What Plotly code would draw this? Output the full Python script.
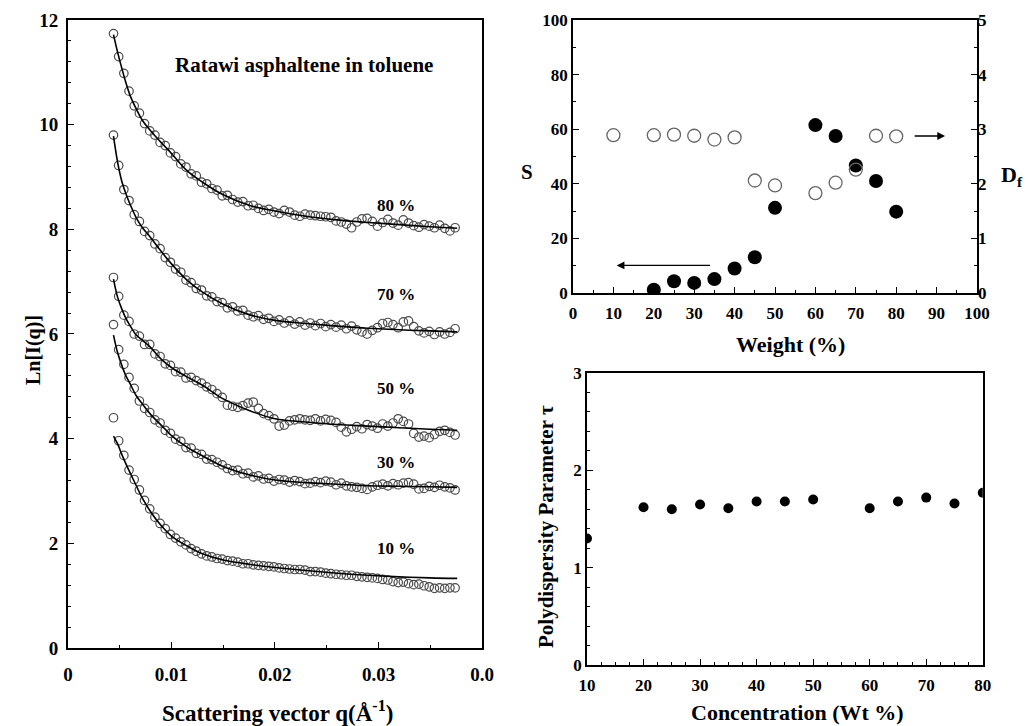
import plotly.graph_objects as go

# ---------------- Left panel data: Ln[I(q)] vs q ----------------
q = [0.0044, 0.0049, 0.0054, 0.0059, 0.0064, 0.0069, 0.0074, 0.0079, 0.0084, 0.0089,
     0.0094, 0.0099, 0.0104, 0.0109, 0.0114, 0.0119, 0.0124, 0.0129, 0.0134, 0.0139,
     0.0144, 0.0149, 0.0154, 0.0159, 0.0164, 0.0169, 0.0174, 0.0179, 0.0184, 0.0189,
     0.0194, 0.0199, 0.0204, 0.0209, 0.0214, 0.0219, 0.0224, 0.0229, 0.0234, 0.0239,
     0.0244, 0.0249, 0.0254, 0.0259, 0.0264, 0.0269, 0.0274, 0.0279, 0.0284, 0.0289,
     0.0294, 0.0299, 0.0304, 0.0309, 0.0314, 0.0319, 0.0324, 0.0329, 0.0334, 0.0339,
     0.0344, 0.0349, 0.0354, 0.0359, 0.0364, 0.0369, 0.0374]

ln_80 = [11.74, 11.30, 10.98, 10.64, 10.36, 10.22, 10.02, 9.88, 9.80, 9.66,
         9.60, 9.46, 9.39, 9.25, 9.19, 9.06, 9.02, 8.90, 8.87, 8.78,
         8.75, 8.64, 8.65, 8.57, 8.52, 8.53, 8.45, 8.46, 8.40, 8.36,
         8.38, 8.33, 8.30, 8.36, 8.33, 8.27, 8.25, 8.29, 8.27, 8.26,
         8.25, 8.24, 8.23, 8.16, 8.14, 8.10, 8.03, 8.14, 8.20, 8.21,
         8.15, 8.06, 8.13, 8.19, 8.12, 8.08, 8.18, 8.12, 8.07, 8.04,
         8.09, 8.06, 8.03, 8.08, 8.02, 7.97, 8.03]
ln_70 = [9.80, 9.22, 8.76, 8.55, 8.28, 8.15, 7.96, 7.88, 7.72, 7.63,
         7.46, 7.37, 7.24, 7.18, 7.03, 6.98, 6.87, 6.84, 6.73, 6.71,
         6.62, 6.60, 6.50, 6.52, 6.44, 6.45, 6.36, 6.33, 6.35, 6.28,
         6.30, 6.24, 6.27, 6.21, 6.25, 6.19, 6.23, 6.17, 6.21, 6.16,
         6.20, 6.14, 6.18, 6.13, 6.17, 6.10, 6.15, 6.08, 6.04, 6.00,
         6.07, 6.12, 6.20, 6.22, 6.18, 6.12, 6.23, 6.25, 6.14, 6.06,
         6.02, 6.05, 5.99, 6.04, 6.00, 6.03, 6.10]
ln_50 = [7.08, 6.72, 6.36, 6.24, 6.00, 5.96, 5.80, 5.80, 5.62, 5.57,
         5.43, 5.40, 5.28, 5.27, 5.16, 5.17, 5.11, 5.06, 4.99, 4.94,
         4.86, 4.79, 4.64, 4.62, 4.60, 4.63, 4.68, 4.70, 4.58, 4.48,
         4.44, 4.38, 4.24, 4.26, 4.34, 4.36, 4.38, 4.36, 4.35, 4.38,
         4.34, 4.37, 4.35, 4.31, 4.22, 4.13, 4.18, 4.23, 4.19, 4.27,
         4.24, 4.20, 4.28, 4.24, 4.30, 4.38, 4.33, 4.28, 4.10, 4.03,
         4.05, 4.02, 4.08, 4.14, 4.16, 4.12, 4.07]
ln_30 = [6.18, 5.70, 5.42, 5.17, 4.96, 4.72, 4.58, 4.50, 4.36, 4.30,
         4.16, 4.10, 3.99, 3.95, 3.83, 3.82, 3.72, 3.70, 3.61, 3.60,
         3.55, 3.50, 3.43, 3.39, 3.40, 3.33, 3.34, 3.27, 3.29, 3.23,
         3.24, 3.19, 3.22, 3.21, 3.17, 3.20, 3.18, 3.14, 3.15, 3.18,
         3.16, 3.19, 3.17, 3.12, 3.15, 3.10, 3.08, 3.07, 3.05, 3.03,
         3.08, 3.11, 3.13, 3.10, 3.14, 3.12, 3.15, 3.16, 3.13, 3.04,
         3.05, 3.09, 3.07, 3.11, 3.08, 3.06, 3.02]
ln_10 = [4.40, 3.96, 3.68, 3.40, 3.22, 3.02, 2.82, 2.66, 2.50, 2.38,
         2.28, 2.17, 2.10, 2.03, 1.97, 1.90, 1.85, 1.80, 1.76, 1.74,
         1.71, 1.70, 1.67, 1.66, 1.64, 1.61, 1.61, 1.59, 1.58, 1.57,
         1.56, 1.55, 1.53, 1.52, 1.51, 1.50, 1.50, 1.49, 1.46, 1.46,
         1.45, 1.43, 1.42, 1.41, 1.40, 1.39, 1.39, 1.37, 1.36, 1.35,
         1.34, 1.33, 1.31, 1.30, 1.27, 1.25, 1.26, 1.23, 1.21, 1.22,
         1.19, 1.17, 1.14, 1.15, 1.14, 1.15, 1.15]

# fitted curves
q_fit = [0.0044, 0.0048, 0.0052, 0.0056, 0.0060, 0.0066, 0.0072, 0.0080, 0.0090, 0.0100,
         0.0115, 0.0130, 0.0150, 0.0175, 0.0200, 0.0230, 0.0260, 0.0290, 0.0320, 0.0350, 0.0376]
fit_80 = [11.72, 11.38, 11.08, 10.80, 10.56, 10.30, 10.08, 9.88, 9.66, 9.45,
          9.12, 8.90, 8.66, 8.46, 8.35, 8.25, 8.18, 8.13, 8.09, 8.05, 8.02]
fit_70 = [9.78, 9.28, 8.92, 8.68, 8.48, 8.22, 8.03, 7.84, 7.58, 7.34,
          7.03, 6.80, 6.57, 6.37, 6.26, 6.20, 6.15, 6.11, 6.08, 6.06, 6.04]
fit_50 = [7.05, 6.70, 6.48, 6.30, 6.16, 5.98, 5.88, 5.74, 5.52, 5.36,
          5.18, 5.02, 4.76, 4.54, 4.38, 4.32, 4.27, 4.24, 4.21, 4.18, 4.16]
fit_30 = [5.98, 5.64, 5.40, 5.20, 5.05, 4.82, 4.66, 4.46, 4.26, 4.06,
          3.84, 3.67, 3.47, 3.31, 3.21, 3.16, 3.13, 3.10, 3.09, 3.08, 3.07]
fit_10 = [4.05, 3.90, 3.70, 3.52, 3.35, 3.10, 2.86, 2.60, 2.34, 2.14,
          1.95, 1.80, 1.68, 1.60, 1.54, 1.48, 1.43, 1.39, 1.36, 1.34, 1.33]

curve_labels = ["80 %", "70 %", "50 %", "30 %", "10 %"]
label_y = [8.45, 6.75, 4.95, 3.55, 1.90]
left_xticks = [0, 0.01, 0.02, 0.03, 0.04]
left_xticktext = ["0", "0.01", "0.02", "0.03", "0.0"]
left_yticks = [0, 2, 4, 6, 8, 10, 12]

# ---------------- Top-right data: S and Df vs weight ----------------
w_S = [20, 25, 30, 35, 40, 45, 50, 60, 65, 70, 75, 80]
S_vals = [1.2, 4.3, 3.7, 5.1, 9.0, 13.1, 31.2, 61.5, 57.5, 46.7, 41.0, 29.8]
w_Df = [10, 20, 25, 30, 35, 40, 45, 50, 60, 65, 70, 75, 80]
Df_vals = [2.89, 2.89, 2.90, 2.88, 2.81, 2.85, 2.06, 1.97, 1.83, 2.02, 2.26, 2.88, 2.87]
weight_ticks = [0, 10, 20, 30, 40, 50, 60, 70, 80, 90, 100]
S_ticks = [0, 20, 40, 60, 80, 100]
Df_ticks = [0, 1, 2, 3, 4, 5]

# ---------------- Bottom-right data: polydispersity ----------------
conc = [10, 20, 25, 30, 35, 40, 45, 50, 60, 65, 70, 75, 80]
tau = [1.30, 1.62, 1.60, 1.65, 1.61, 1.68, 1.68, 1.70, 1.61, 1.68, 1.72, 1.66, 1.77]
conc_ticks = [10, 20, 30, 40, 50, 60, 70, 80]
tau_ticks = [0, 1, 2, 3]

SERIF = "Liberation Serif"


def tf(size):
    return dict(family=SERIF, size=size, color="black")


def bold(vals, texts=None):
    texts = texts if texts is not None else [str(v) for v in vals]
    return dict(tickvals=vals, ticktext=["<b>%s</b>" % t for t in texts])


fig = go.Figure()

# left panel: data + fits
for vals, fit in [(ln_80, fit_80), (ln_70, fit_70), (ln_50, fit_50), (ln_30, fit_30), (ln_10, fit_10)]:
    fig.add_trace(go.Scatter(x=q, y=vals, mode="markers", xaxis="x", yaxis="y",
                             marker=dict(symbol="circle-open", size=8.5, color="#4a4a4a",
                                         line=dict(width=1.2, color="#4a4a4a")),
                             showlegend=False, hoverinfo="skip"))
    fig.add_trace(go.Scatter(x=q_fit, y=fit, mode="lines", xaxis="x", yaxis="y",
                             line=dict(color="black", width=1.6, shape="spline"),
                             showlegend=False, hoverinfo="skip"))

# top-right panel
fig.add_trace(go.Scatter(x=w_Df, y=Df_vals, mode="markers", xaxis="x2", yaxis="y3",
                         marker=dict(symbol="circle-open", size=13, color="#666666",
                                     line=dict(width=1.3, color="#666666")),
                         showlegend=False))
fig.add_trace(go.Scatter(x=w_S, y=S_vals, mode="markers", xaxis="x2", yaxis="y2",
                         marker=dict(symbol="circle", size=14, color="black"),
                         showlegend=False))

# bottom-right panel
fig.add_trace(go.Scatter(x=conc, y=tau, mode="markers", xaxis="x3", yaxis="y4",
                         marker=dict(symbol="circle", size=10, color="black"),
                         showlegend=False))

frame = dict(showline=True, linecolor="black", linewidth=1.6, mirror=True,
             ticks="inside", ticklen=6, tickcolor="black", showgrid=False,
             zeroline=False, automargin=False)

fig.update_layout(
    template="none",
    width=1028, height=726,
    margin=dict(l=0, r=0, t=0, b=0, autoexpand=False),
    paper_bgcolor="white", plot_bgcolor="white",
    xaxis=dict(domain=[0.0661, 0.4689], range=[0, 0.04], anchor="y",
               tickfont=tf(19), ticklabelstandoff=8,
               minor=dict(dtick=0.005, ticks="inside", ticklen=3, tickcolor="black"),
               **bold(left_xticks, left_xticktext), **frame),
    yaxis=dict(domain=[0.1074, 0.9725], range=[0, 12], anchor="x",
               tickfont=tf(19), ticklabelstandoff=4,
               minor=dict(dtick=0.4, ticks="inside", ticklen=3, tickcolor="black"),
               **bold(left_yticks), **frame),
    xaxis2=dict(domain=[0.5574, 0.9504], range=[0, 100], anchor="y2",
                tickfont=tf(17), ticklabelstandoff=4,
                minor=dict(dtick=5, ticks="inside", ticklen=3, tickcolor="black"),
                **bold(weight_ticks), **frame),
    yaxis2=dict(domain=[0.5964, 0.9725], range=[0, 100], anchor="x2",
                tickfont=tf(17),
                minor=dict(dtick=10, ticks="inside", ticklen=3, tickcolor="black"),
                **bold(S_ticks), **frame),
    yaxis3=dict(overlaying="y2", side="right", range=[0, 5], anchor="x2",
                showgrid=False, zeroline=False, ticks="inside", ticklen=6,
                tickcolor="black", tickfont=tf(17), automargin=False,
                minor=dict(dtick=0.5, ticks="inside", ticklen=3, tickcolor="black"),
                **bold(Df_ticks)),
    xaxis3=dict(domain=[0.571, 0.956], range=[10, 80], anchor="y4",
                tickfont=tf(17), ticklabelstandoff=4,
                minor=dict(dtick=2.5, ticks="inside", ticklen=3, tickcolor="black"),
                **bold(conc_ticks), **frame),
    yaxis4=dict(domain=[0.084, 0.4862], range=[0, 3], anchor="x3",
                tickfont=tf(17),
                minor=dict(dtick=0.2, ticks="inside", ticklen=3, tickcolor="black"),
                **bold(tau_ticks), **frame),
)


def ptext(px, py, text, size, angle=0):
    return dict(x=px / 1028, y=1 - py / 726, xref="paper", yref="paper",
                xanchor="center", yanchor="middle", text=text, textangle=angle,
                showarrow=False, font=dict(family=SERIF, size=size, color="black"))


ann = []
# left panel texts
ann.append(ptext(304, 65, "<b>Ratawi asphaltene in toluene</b>", 21))
for lab, ly in zip(curve_labels, label_y):
    ann.append(dict(x=0.0317, y=ly, xref="x", yref="y", text="<b>%s</b>" % lab,
                    xanchor="center", yanchor="middle",
                    showarrow=False, font=dict(family=SERIF, size=17, color="black")))
ann.append(ptext(33, 350, "<b>Ln[I(q)]</b>", 20, -90))
ann.append(ptext(277, 711, "<b>Scattering vector q(Å<sup>-1</sup>)</b>", 23))
# top-right texts
ann.append(ptext(527, 172, "<b>S</b>", 21))
ann.append(ptext(1012, 176, "<b>D<sub>f</sub></b>", 22))
ann.append(ptext(790, 344, "<b>Weight (%)</b>", 22))
ann.append(dict(x=10.8, y=10.1, ax=34.3, ay=10.1, xref="x2", yref="y2",
                axref="x2", ayref="y2", text="", showarrow=True, arrowhead=2,
                arrowsize=1.2, arrowwidth=1.3, arrowcolor="black"))
ann.append(dict(x=92.1, y=57.5, ax=84.2, ay=57.5, xref="x2", yref="y2",
                axref="x2", ayref="y2", text="", showarrow=True, arrowhead=2,
                arrowsize=1.2, arrowwidth=1.3, arrowcolor="black"))
# bottom-right texts
ann.append(ptext(546, 527, "<b>Polydispersity Parameter τ</b>", 21, -90))
ann.append(ptext(797, 712, "<b>Concentration (Wt %)</b>", 22))
fig.update_layout(annotations=ann)

fig.write_html("out.html")
